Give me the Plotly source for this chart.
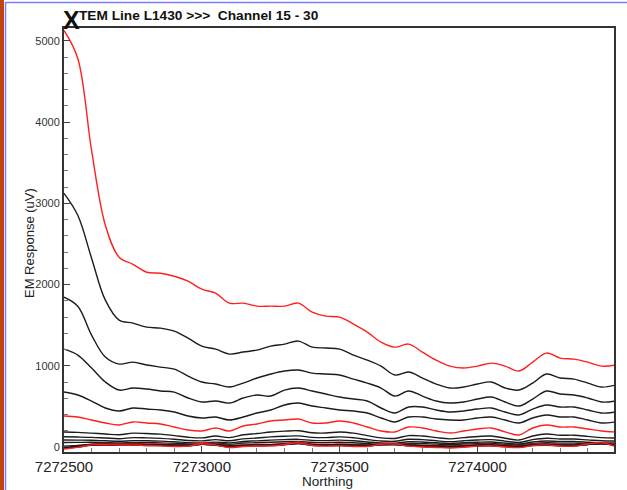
import plotly.graph_objects as go

# Northing stations (m), every 50 m along line L1430
northing = list(range(7272500, 7274501, 50))

# EM response (uV) per channel, channels 15 - 30
ch15 = [5130, 4785, 3653, 2730, 2337, 2250, 2152, 2140, 2103, 2042, 1943, 1894, 1771, 1771,
        1734, 1734, 1734, 1771, 1660, 1611, 1599, 1513, 1415, 1292, 1230, 1267, 1168, 1070,
        996, 972, 996, 1033, 996, 935, 1045, 1156, 1095, 1082, 1045, 996, 1008]
ch16 = [3124, 2854, 2325, 1808, 1562, 1525, 1476, 1464, 1427, 1341, 1242, 1205, 1144, 1169,
        1193, 1242, 1267, 1304, 1230, 1218, 1205, 1132, 1070, 996, 886, 923, 849, 775,
        726, 738, 775, 800, 726, 701, 787, 898, 849, 836, 787, 738, 763]
ch17 = [1845, 1734, 1378, 1107, 1021, 1045, 1009, 984, 959, 873, 800, 775, 738, 787,
        849, 898, 935, 947, 910, 898, 886, 836, 787, 726, 627, 689, 627, 566,
        541, 554, 590, 615, 554, 504, 590, 689, 652, 640, 603, 554, 566]
ch18 = [1205, 1132, 972, 800, 701, 726, 713, 689, 676, 603, 554, 566, 541, 603,
        640, 627, 701, 726, 689, 652, 615, 590, 566, 480, 418, 492, 492, 455,
        430, 443, 467, 480, 430, 394, 467, 517, 492, 492, 455, 418, 430]
ch19 = [677, 640, 566, 480, 443, 480, 467, 455, 430, 381, 357, 369, 332, 369,
        418, 455, 517, 541, 504, 480, 455, 443, 418, 357, 308, 369, 369, 344,
        332, 332, 357, 369, 332, 295, 357, 394, 369, 369, 332, 295, 308]
ch20 = [381, 369, 332, 295, 271, 308, 295, 283, 246, 209, 197, 234, 197, 258,
        283, 320, 332, 344, 295, 295, 320, 295, 246, 197, 185, 246, 234, 197,
        172, 197, 221, 234, 185, 148, 234, 271, 246, 246, 221, 197, 185]
ch21 = [185, 180, 170, 160, 150, 170, 165, 158, 140, 120, 112, 135, 115, 150,
        165, 185, 195, 200, 175, 172, 185, 170, 140, 112, 105, 140, 135, 115,
        100, 115, 128, 135, 108, 85, 135, 160, 145, 145, 130, 115, 110]
ch22 = [125, 122, 118, 110, 102, 115, 112, 106, 95, 80, 75, 90, 76, 100,
        110, 124, 132, 136, 118, 115, 124, 113, 92, 74, 70, 95, 90, 76,
        66, 77, 86, 90, 72, 55, 90, 108, 98, 98, 87, 76, 73]
ch23 = [85, 84, 82, 76, 70, 78, 76, 72, 64, 54, 50, 60, 50, 68,
        75, 84, 90, 94, 80, 78, 84, 76, 62, 49, 46, 64, 61, 51,
        44, 52, 58, 61, 48, 36, 61, 74, 67, 67, 59, 51, 49]
ch24 = [55, 56, 58, 54, 50, 55, 53, 50, 44, 38, 36, 44, 34, 48,
        52, 58, 64, 68, 56, 54, 58, 52, 42, 32, 30, 44, 42, 35,
        30, 36, 40, 42, 33, 24, 42, 52, 47, 47, 41, 35, 34]
ch25 = [-5, 10, 38, 42, 40, 42, 38, 36, 30, 28, 48, 40, 20, 26,
        30, 32, 44, 58, 38, 34, 36, 30, 28, 42, 44, 30, 22, 18,
        12, 18, 30, 32, 20, 14, 34, 40, 30, 28, 40, 52, 40]
ch26 = [10, 18, 32, 34, 33, 35, 32, 30, 26, 24, 38, 33, 18, 22,
        26, 28, 38, 48, 32, 28, 30, 25, 22, 34, 36, 26, 18, 14,
        10, 14, 24, 26, 16, 10, 28, 34, 26, 24, 34, 44, 30]
ch27 = [0, 12, 28, 30, 28, 30, 27, 25, 20, 20, 34, 28, 12, 18,
        22, 24, 34, 44, 28, 24, 26, 20, 18, 30, 32, 22, 14, 10,
        6, 10, 20, 22, 12, 6, 24, 30, 22, 20, 32, 42, 24]
ch28 = [-8, 6, 24, 26, 24, 26, 22, 20, 15, 16, 32, 24, 6, 14,
        18, 20, 30, 42, 24, 20, 22, 16, 14, 28, 30, 18, 10, 6,
        2, 6, 16, 18, 8, 2, 20, 26, 18, 16, 30, 42, 18]
ch29 = [-15, 0, 20, 22, 20, 22, 18, 16, 10, 12, 32, 20, 0, 10,
        14, 16, 28, 42, 20, 16, 18, 12, 10, 28, 30, 14, 6, 2,
        -2, 2, 12, 14, 4, -2, 16, 22, 14, 12, 30, 44, 12]
ch30 = [-25, -5, 26, 28, 24, 24, 18, 14, 6, 10, 40, 22, -6, 6,
        12, 14, 30, 52, 18, 10, 14, 6, 6, 34, 36, 10, 0, -6,
        -12, -4, 10, 14, 0, -8, 16, 26, 12, 8, 36, 50, 6]

channels = {15: ch15, 16: ch16, 17: ch17, 18: ch18, 19: ch19, 20: ch20, 21: ch21, 22: ch22,
            23: ch23, 24: ch24, 25: ch25, 26: ch26, 27: ch27, 28: ch28, 29: ch29, 30: ch30}

RED = "#ff1f1f"
BLACK = "#1c1c1c"
FONT = "Liberation Sans, Arial, sans-serif"

fig = go.Figure()
for ch, vals in channels.items():
    colour = RED if ch % 5 == 0 else BLACK
    fig.add_trace(go.Scatter(
        x=northing, y=vals, mode="lines", name=f"Ch {ch}",
        line=dict(color=colour, width=1.4, shape="spline", smoothing=1.0),
        hoverinfo="skip",
    ))

# plot area spans 64..614 px horizontally, 28..452 px vertically
L, R, T, B = 64, 614, 28, 452
W, H = 627, 490


def px(xp):
    return (xp - L) / (R - L)


def py(yp):
    return (B - yp) / (B - T)


fig.update_layout(
    width=W, height=H,
    margin=dict(l=L, r=W - R, t=T, b=H - B, pad=0),
    paper_bgcolor="white", plot_bgcolor="white",
    showlegend=False,
    font=dict(family=FONT, color="#222222"),
    xaxis=dict(
        range=[7272500, 7274495], tickvals=[7272500, 7273000, 7273500, 7274000],
        tickformat="d", ticks="inside", ticklen=6, tickcolor="#444", tickwidth=1,
        minor=dict(dtick=100, ticks="inside", ticklen=4, tickcolor="#777"),
        showline=True, linecolor="#333333", linewidth=2, mirror=True,
        showgrid=False, zeroline=False,
        tickfont=dict(size=15, color="#222"),
    ),
    yaxis=dict(
        range=[-62, 5160], tickvals=[0, 1000, 2000, 3000, 4000, 5000],
        ticks="inside", ticklen=6, tickcolor="#444", tickwidth=1,
        minor=dict(dtick=200, ticks="inside", ticklen=4, tickcolor="#777"),
        showline=True, linecolor="#333333", linewidth=2, mirror=True,
        showgrid=False, zeroline=False,
        tickfont=dict(size=11, color="#333"),
    ),
)

annotations = [
    dict(text="<b>X</b>", x=px(61), y=py(20), xanchor="left", yanchor="middle",
         font=dict(size=25, color="#111", family=FONT)),
    dict(text="<b>TEM Line L1430 &gt;&gt;&gt;\u00a0\u00a0Channel 15 - 30</b>",
         x=px(77), y=py(16), xanchor="left", yanchor="middle",
         font=dict(size=13.7, color="#111", family=FONT)),
    dict(text="EM Response (uV)", x=px(29), y=py(243), xanchor="center", yanchor="middle",
         textangle=-90, font=dict(size=13, color="#222", family=FONT)),
    dict(text="Northing", x=px(327), y=py(482), xanchor="center", yanchor="middle",
         font=dict(size=13.5, color="#222", family=FONT)),
]
for a in annotations:
    a.update(xref="paper", yref="paper", showarrow=False)
fig.update_layout(annotations=annotations)

# window edge decorations
fig.update_layout(shapes=[
    dict(type="rect", xref="paper", yref="paper", x0=px(0), x1=px(4), y0=py(H), y1=py(0),
         fillcolor="#c2440f", line=dict(width=0), layer="above"),
    dict(type="line", xref="paper", yref="paper", x0=px(5.5), x1=px(5.5), y0=py(H), y1=py(2),
         line=dict(color="#7d7dff", width=1.5), layer="above"),
    dict(type="line", xref="paper", yref="paper", x0=px(5.5), x1=px(W), y0=py(2.5), y1=py(2.5),
         line=dict(color="#7d7dff", width=1.5), layer="above"),
])

fig.write_html("out.html")
